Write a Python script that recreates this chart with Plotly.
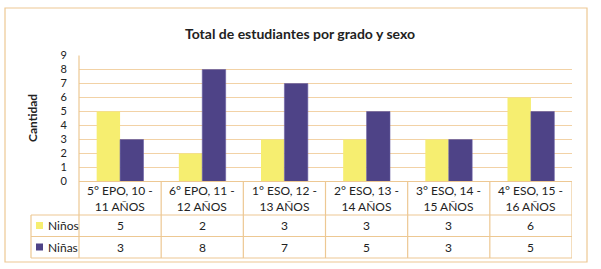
import plotly.graph_objects as go

categories = ["5° EPO, 10 -<br>11 AÑOS", "6° EPO, 11 -<br>12 AÑOS", "1° ESO, 12 -<br>13 AÑOS",
              "2° ESO, 13 -<br>14 AÑOS", "3° ESO, 14 -<br>15 AÑOS", "4° ESO, 15 -<br>16 AÑOS"]
ninos = [5, 2, 3, 3, 3, 6]
ninas = [3, 8, 7, 5, 3, 5]
series_names = ["Niños", "Niñas"]
title = "Total de estudiantes por grado y sexo"
y_title = "Cantidad"

W, H = 601, 269
YELLOW = "#F6EE70"
PURPLE = "#4E4387"
LINE = "#EDC893"
GRID = "#F2D2A6"
TXT = "#222222"
FONT = "Lato"


def px(x):
    return x / W


def py(y):
    return 1 - y / H


x_idx = list(range(len(categories)))

fig = go.Figure()
fig.add_bar(x=x_idx, y=ninos, name=series_names[0], marker=dict(color=YELLOW, line=dict(width=0)))
fig.add_bar(x=x_idx, y=ninas, name=series_names[1], marker=dict(color=PURPLE, line=dict(color="#6A5FA3", width=0.6)))

left, right = 79, 572
top, zero = 55.5, 181.5
row1, row2, row3 = 215, 236.5, 258

shapes = []
shapes.append(dict(type="rect", xref="paper", yref="paper", x0=px(5), x1=px(587), y0=py(262), y1=py(8),
                   line=dict(color=LINE, width=1.2)))
shapes.append(dict(type="line", xref="paper", yref="paper", x0=px(left), x1=px(left), y0=py(row3), y1=py(top),
                   line=dict(color=LINE, width=1.2)))
shapes.append(dict(type="line", xref="paper", yref="paper", x0=px(left), x1=px(right), y0=py(zero), y1=py(zero),
                   line=dict(color=LINE, width=1.2)))
for yy in (row1, row2, row3):
    shapes.append(dict(type="line", xref="paper", yref="paper", x0=px(31), x1=px(right), y0=py(yy), y1=py(yy),
                       line=dict(color=LINE, width=1.2)))
shapes.append(dict(type="line", xref="paper", yref="paper", x0=px(31), x1=px(31), y0=py(row3), y1=py(row1),
                   line=dict(color=LINE, width=1.2)))
for i in range(1, len(categories) + 1):
    shapes.append(dict(type="line", xref="x", yref="paper", x0=i - 0.5, x1=i - 0.5, y0=py(row3), y1=py(zero),
                       line=dict(color=LINE, width=1.2)))
for yy, col in ((225.5, YELLOW), (247, PURPLE)):
    shapes.append(dict(type="rect", xref="paper", yref="paper", x0=px(36), x1=px(43), y0=py(yy + 3.5), y1=py(yy - 3.5),
                       line=dict(width=0), fillcolor=col))

ann = []
ann.append(dict(text="<b>" + title + "</b>", xref="paper", yref="paper", x=px(300), y=py(33), showarrow=False,
                font=dict(size=14, color=TXT, family=FONT), xanchor="center", yanchor="middle"))
ann.append(dict(text="<b>" + y_title + "</b>", xref="paper", yref="paper", x=px(32), y=py(118), showarrow=False,
                textangle=-90, font=dict(size=12, color=TXT, family=FONT), xanchor="center", yanchor="middle"))
for i, c in enumerate(categories):
    ann.append(dict(text=c, xref="x", yref="paper", x=i, y=py(198.5), showarrow=False,
                    font=dict(size=12, color=TXT, family=FONT), xanchor="center", yanchor="middle"))
    ann.append(dict(text=str(ninos[i]), xref="x", yref="paper", x=i, y=py(225.5), showarrow=False,
                    font=dict(size=12, color=TXT, family=FONT), xanchor="center", yanchor="middle"))
    ann.append(dict(text=str(ninas[i]), xref="x", yref="paper", x=i, y=py(247), showarrow=False,
                    font=dict(size=12, color=TXT, family=FONT), xanchor="center", yanchor="middle"))
for name, yy in zip(series_names, (225.5, 247)):
    ann.append(dict(text=name, xref="paper", yref="paper", x=px(46), y=py(yy), showarrow=False,
                    font=dict(size=12, color=TXT, family=FONT), xanchor="left", yanchor="middle"))

fig.update_layout(
    template="none",
    width=W, height=H,
    margin=dict(l=0, r=0, t=0, b=0, pad=0, autoexpand=False),
    paper_bgcolor="white", plot_bgcolor="white",
    barmode="group", bargap=0.43, bargroupgap=0,
    showlegend=False,
    shapes=shapes, annotations=ann,
    font=dict(family=FONT, color=TXT),
    xaxis=dict(domain=[px(left), px(right)], range=[-0.5, len(categories) - 0.5], showticklabels=False,
               showgrid=False, zeroline=False, showline=False, ticks="", automargin=False),
    yaxis=dict(domain=[py(zero), py(top)], range=[0, 9], dtick=1, tick0=0, showgrid=True, gridcolor=GRID,
               gridwidth=1.2, zeroline=False, showline=False, ticks="outside", ticklen=9, automargin=False,
               tickcolor="rgba(0,0,0,0)", tickfont=dict(size=11, color=TXT, family=FONT)),
)

fig.write_html("out.html", config={"displayModeBar": False},
               post_script="document.body.style.margin='0';document.body.style.overflow='hidden';")
